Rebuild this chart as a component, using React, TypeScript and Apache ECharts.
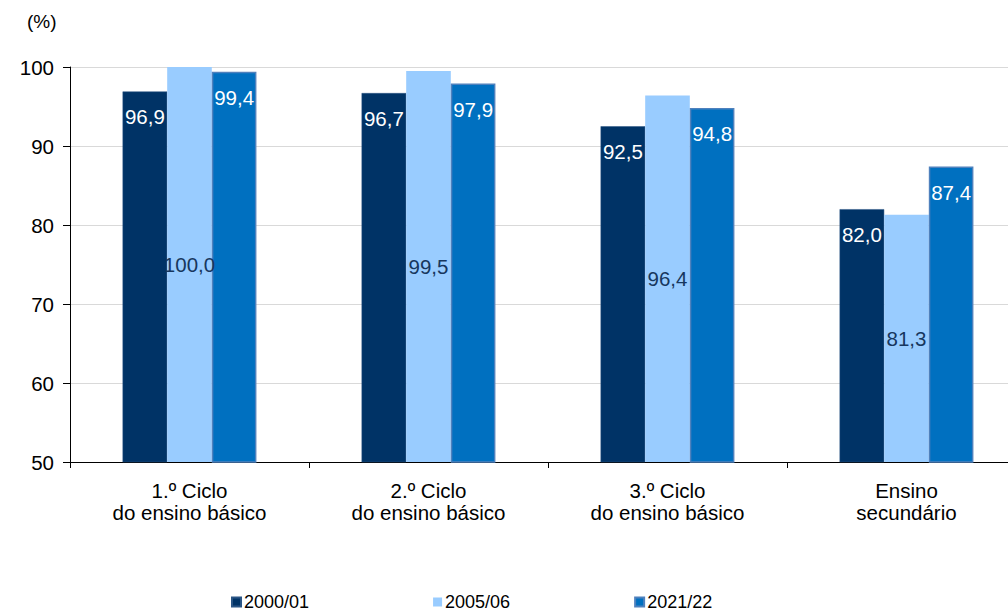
import React, { useEffect, useRef } from "react";
import * as echarts from "echarts";

const categories = [
  "1.º Ciclo\ndo ensino básico",
  "2.º Ciclo\ndo ensino básico",
  "3.º Ciclo\ndo ensino básico",
  "Ensino\nsecundário",
];
const seriesNames = ["2000/01", "2005/06", "2021/22"];
const values2000 = [96.9, 96.7, 92.5, 82.0];
const values2005 = [100.0, 99.5, 96.4, 81.3];
const values2021 = [99.4, 97.9, 94.8, 87.4];
const yTicks = { min: 50, max: 100, interval: 10 };

const FONT = "'Liberation Sans', Arial, sans-serif";

export default function App() {
  const ref = useRef<HTMLDivElement>(null);
  useEffect(() => {
    if (!ref.current) return;
    const chart = echarts.init(ref.current, undefined, { renderer: "svg" });
    const fmt = (p: any) => Number(p.value).toFixed(1).replace(".", ",");
    chart.setOption({
      animation: false,
      textStyle: { fontFamily: FONT },
      grid: { left: 70, top: 67, width: 956, height: 395, containLabel: false },
      graphic: [
        {
          type: "text",
          left: 27,
          top: 12,
          style: { text: "(%)", font: `19px ${FONT}`, fill: "#000" },
        },
      ],
      legend: {
        top: 593,
        left: 231,
        padding: 0,
        itemWidth: 9,
        itemHeight: 9,
        itemGap: 124,
        icon: "rect",
        textStyle: { fontSize: 18, color: "#000", fontFamily: FONT, padding: [0, 0, 0, -2] },
        data: seriesNames,
      },
      xAxis: {
        type: "category",
        data: categories,
        axisLine: { lineStyle: { color: "#000", width: 1 } },
        axisTick: { show: true, length: 6, lineStyle: { color: "#000" } },
        axisLabel: { color: "#000", fontSize: 20.5, lineHeight: 22, margin: 17, fontFamily: FONT },
      },
      yAxis: {
        type: "value",
        min: yTicks.min,
        max: yTicks.max,
        interval: yTicks.interval,
        axisLine: { show: true, lineStyle: { color: "#000", width: 1 } },
        axisTick: { show: true, length: 7, lineStyle: { color: "#000" } },
        axisLabel: { color: "#000", fontSize: 20.5, margin: 16, fontFamily: FONT },
        splitLine: { show: true, lineStyle: { color: "#D9D9D9", width: 1 } },
      },
      series: [
        {
          name: seriesNames[0],
          type: "bar",
          data: values2000,
          barGap: "0%",
          barCategoryGap: "44%",
          itemStyle: { color: "#003366", borderColor: "#2a5585", borderWidth: 0.5 },
          label: {
            show: true,
            position: "insideTop",
            distance: 15,
            color: "#fff",
            fontSize: 20.5,
            fontFamily: FONT,
            formatter: fmt,
          },
        },
        {
          name: seriesNames[1],
          type: "bar",
          data: values2005,
          barGap: "0%",
          barCategoryGap: "44%",
          itemStyle: { color: "#99CCFF" },
          label: {
            show: true,
            position: "inside",
            color: "#17375E",
            fontSize: 20.5,
            fontFamily: FONT,
            formatter: fmt,
          },
        },
        {
          name: seriesNames[2],
          type: "bar",
          data: values2021,
          barGap: "0%",
          barCategoryGap: "44%",
          itemStyle: { color: "#0070C0", borderColor: "#4F81BD", borderWidth: 1.5 },
          label: {
            show: true,
            position: "insideTop",
            distance: 15,
            color: "#fff",
            fontSize: 20.5,
            fontFamily: FONT,
            formatter: fmt,
          },
        },
      ],
    });
    return () => chart.dispose();
  }, []);
  return (
    <div style={{ width: 1008, height: 614, position: "absolute", left: 0, top: 0, overflow: "hidden" }}>
      <div ref={ref} style={{ width: 1040, height: 614, position: "absolute", left: 0, top: 0 }} />
    </div>
  );
}
